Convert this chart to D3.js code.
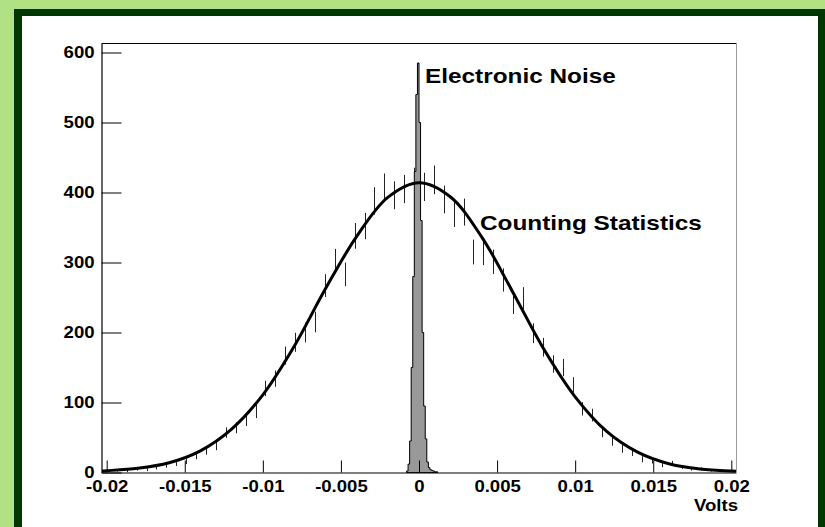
<!DOCTYPE html>
<html>
<head>
<meta charset="utf-8">
<script src="https://cdn.jsdelivr.net/npm/d3@7"></script>
<style>
  body { margin: 0; background: #fff; }
  svg { display: block; }
  text { font-family: "Liberation Sans", Arial, Helvetica, sans-serif; font-weight: bold; fill: #000; }
</style>
</head>
<body>
<svg id="chart" width="825" height="527"></svg>
<script>
// Pulse-height histogram: 64 equal bins spanning the axis range
const histMin = -0.0203;
const histMax = 0.0203;
const counts = [
  2, 3, 2, 5, 4, 7, 10, 13, 16, 24,
  31, 38, 57, 64, 75, 87, 120, 134, 167, 186,
  200, 215, 267, 302, 283, 338, 352, 388, 407, 396,
  405, 415, 408, 418, 390, 370, 372, 315, 314, 301,
  275, 242, 249, 199, 179, 155, 150, 125, 91, 82,
  58, 45, 34, 29, 19, 17, 11, 13, 8, 5,
  5, 3, 2, 2
];

// Gaussian fit ("Counting Statistics"), sampled along the axis
const fitX = [-0.0203, -0.020, -0.018, -0.016, -0.014, -0.012, -0.010, -0.008, -0.006, -0.004, -0.002,
              0, 0.002, 0.004, 0.006, 0.008, 0.010, 0.012, 0.014, 0.016, 0.018, 0.020, 0.0203];
const fitY = [2.2, 2.6, 6, 14, 31, 62, 111, 180, 262, 337, 393,
              414, 394, 337, 258, 176, 108, 59, 29, 12.5, 5, 2, 1.8];

// Electronic noise histogram: fine bins of 0.1 mV
const noiseCenters = [-0.00075, -0.00065, -0.00055, -0.00045, -0.00035, -0.00025, -0.00015, -0.00005,
                      0.00005, 0.00015, 0.00025, 0.00035, 0.00045, 0.00055, 0.00065, 0.00075,
                      0.00085, 0.00095, 0.00105, 0.00115];
const noiseCounts = [2, 12, 45, 150, 280, 430, 540, 585,
                     500, 360, 200, 95, 48, 15, 7, 4,
                     3, 2, 1, 1];
const noiseBinWidth = 0.0001;

// Axis ticks
const xTicks = [-0.02, -0.015, -0.01, -0.005, 0, 0.005, 0.01, 0.015, 0.02];
const xTickLabels = ["-0.02", "-0.015", "-0.01", "-0.005", "0", "0.005", "0.01", "0.015", "0.02"];
const yTicks = [0, 100, 200, 300, 400, 500, 600];
const yTickLabels = ["0", "100", "200", "300", "400", "500", "600"];
const xTitle = "Volts";
const noiseLabel = "Electronic Noise";
const fitLabel = "Counting Statistics";

const svg = d3.select("#chart");
const W = 825, H = 527;
const textStretch = 1.16;

// Canvas frame
svg.append("rect").attr("width", W).attr("height", H).attr("fill", "#b2e184");
svg.append("rect").attr("x", 14).attr("y", 9).attr("width", W - 14).attr("height", H - 9).attr("fill", "#013601");
svg.append("rect").attr("x", 22).attr("y", 16).attr("width", 796).attr("height", H - 16).attr("fill", "#ffffff");

const x = d3.scaleLinear().domain([histMin, histMax]).range([102, 736]);
const y = d3.scaleLinear().domain([0, 613]).range([472.5, 43.4]);

const plot = svg.append("g");

// Noise peak: filled step histogram
const noiseSteps = noiseCenters.map((c, i) => ({ x: c - noiseBinWidth / 2, v: noiseCounts[i] }));
noiseSteps.unshift({ x: noiseSteps[0].x, v: 0 });
const lastC = noiseCenters[noiseCenters.length - 1] + noiseBinWidth / 2;
noiseSteps.push({ x: lastC, v: noiseCounts[noiseCounts.length - 1] });
noiseSteps.push({ x: lastC, v: 0 });
const noiseArea = d3.area()
  .x(d => x(d.x))
  .y0(y(0))
  .y1(d => y(d.v))
  .curve(d3.curveStepAfter);
plot.append("path")
  .datum(noiseSteps)
  .attr("d", noiseArea)
  .attr("fill", "#999999")
  .attr("stroke", "#000")
  .attr("stroke-width", 1);

// Error bars of the counting histogram (sqrt(N) errors)
const binW = (histMax - histMin) / counts.length;
plot.append("g")
  .selectAll("line")
  .data(counts)
  .join("line")
  .attr("x1", (d, i) => Math.round(x(histMin + (i + 0.5) * binW)) + 0.5)
  .attr("x2", (d, i) => Math.round(x(histMin + (i + 0.5) * binW)) + 0.5)
  .attr("y1", d => y(Math.max(0, d - Math.sqrt(d))))
  .attr("y2", d => y(d + Math.sqrt(d)))
  .attr("stroke", "#222")
  .attr("stroke-width", 1);

// Gaussian fit curve
const fitLine = d3.line()
  .x((d, i) => x(fitX[i]))
  .y(d => y(d))
  .curve(d3.curveCatmullRom);
plot.append("path")
  .datum(fitY)
  .attr("d", fitLine)
  .attr("fill", "none")
  .attr("stroke", "#000")
  .attr("stroke-width", 3)
  .attr("stroke-linejoin", "round");

// Axes
const xMinor = d3.range(-20, 21).map(i => i / 1000).filter(v => !xTicks.some(t => Math.abs(t - v) < 1e-9));
const yMinor = d3.range(0, 601, 20).filter(v => v % 100 !== 0);

const xAxisG = svg.append("g").attr("transform", "translate(0,472.5)");
xAxisG.call(d3.axisBottom(x).tickValues(xMinor).tickSize(-6).tickSizeOuter(0).tickFormat(""));
xAxisG.call(d3.axisBottom(x).tickValues(xTicks).tickSize(-12).tickSizeOuter(0).tickPadding(8)
  .tickFormat((d, i) => xTickLabels[i]));
xAxisG.selectAll("path.domain").attr("stroke", "#000").attr("stroke-width", 1.2);
xAxisG.selectAll(".tick line").attr("stroke", "#000");
xAxisG.selectAll("text").attr("font-size", 16).attr("transform", `scale(${textStretch},1)`);

const yAxisG = svg.append("g").attr("transform", "translate(101.5,0)");
yAxisG.call(d3.axisLeft(y).tickValues(yMinor).tickSize(-10).tickSizeOuter(0).tickFormat(""));
yAxisG.call(d3.axisLeft(y).tickValues(yTicks).tickSize(-20).tickSizeOuter(0).tickPadding(6)
  .tickFormat((d, i) => yTickLabels[i]));
yAxisG.selectAll("path.domain").attr("stroke", "#000").attr("stroke-width", 1.2);
yAxisG.selectAll(".tick line").attr("stroke", "#000");
yAxisG.selectAll("text").attr("font-size", 16).attr("transform", `scale(${textStretch},1)`);

// Frame top and right
svg.append("line").attr("x1", 101.5).attr("x2", 736.5).attr("y1", 43.5).attr("y2", 43.5)
  .attr("stroke", "#000").attr("stroke-width", 1);
svg.append("line").attr("x1", 736.5).attr("x2", 736.5).attr("y1", 43.5).attr("y2", 472.5)
  .attr("stroke", "#9a9a9a").attr("stroke-width", 1);

// Titles and annotations
function stretchedText(str, tx, ty, size, anchor) {
  svg.append("text")
    .attr("transform", `translate(${tx},${ty}) scale(${textStretch},1)`)
    .attr("font-size", size)
    .attr("text-anchor", anchor)
    .text(str);
}
stretchedText(xTitle, 738, 511, 16, "end");
stretchedText(noiseLabel, 425, 83, 21, "start");
stretchedText(fitLabel, 480, 230, 21, "start");
</script>
</body>
</html>
